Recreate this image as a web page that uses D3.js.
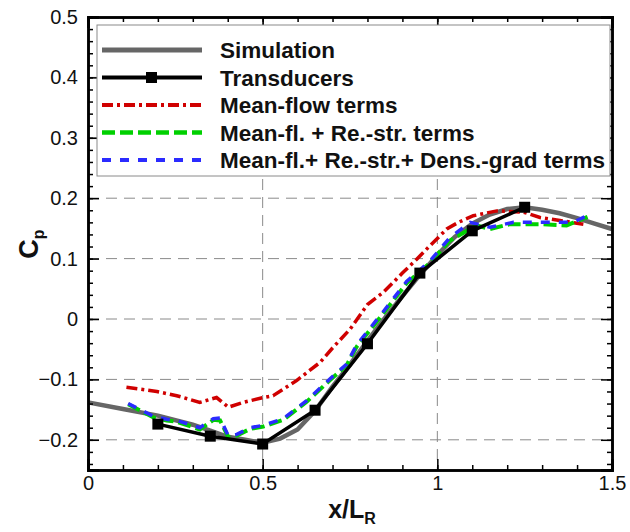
<!DOCTYPE html>
<html>
<head>
<meta charset="utf-8">
<script src="https://cdn.jsdelivr.net/npm/d3@7"></script>
<style>
  body { margin: 0; background: #fff; }
  svg { font-family: Arial, "Liberation Sans", sans-serif; }
</style>
</head>
<body>
<div id="chart"></div>
<script>
// x/L_R and Cp values
const simX = [0, 0.1, 0.2, 0.3, 0.35, 0.4, 0.45, 0.5, 0.55, 0.6, 0.65, 0.7, 0.75, 0.8, 0.85, 0.9, 0.95, 1.0, 1.05, 1.1, 1.15, 1.2, 1.25, 1.3, 1.35, 1.4, 1.45, 1.5];
const simY = [-0.138, -0.149, -0.16, -0.175, -0.185, -0.195, -0.2, -0.205, -0.198, -0.183, -0.152, -0.112, -0.075, -0.036, 0.002, 0.038, 0.073, 0.106, 0.136, 0.158, 0.173, 0.182, 0.185, 0.181, 0.175, 0.167, 0.158, 0.149];

const transX = [0.2, 0.35, 0.5, 0.65, 0.8, 0.95, 1.1, 1.25];
const transY = [-0.174, -0.194, -0.207, -0.151, -0.041, 0.076, 0.146, 0.185];

const meanX = [0.11, 0.197, 0.254, 0.32, 0.368, 0.402, 0.445, 0.502, 0.53, 0.597, 0.664, 0.7, 0.75, 0.8, 0.845, 0.9, 0.941, 0.98, 1.027, 1.06, 1.103, 1.17, 1.246, 1.294, 1.351, 1.418];
const meanY = [-0.113, -0.12, -0.127, -0.138, -0.13, -0.146, -0.138, -0.13, -0.127, -0.102, -0.072, -0.048, -0.017, 0.024, 0.044, 0.076, 0.099, 0.122, 0.149, 0.16, 0.171, 0.179, 0.177, 0.168, 0.163, 0.157];

const reX = [0.115, 0.187, 0.225, 0.254, 0.32, 0.359, 0.378, 0.402, 0.426, 0.464, 0.502, 0.559, 0.626, 0.693, 0.74, 0.769, 0.845, 0.912, 0.979, 1.036, 1.112, 1.151, 1.208, 1.294, 1.37, 1.43];
const reY = [-0.141, -0.163, -0.168, -0.17, -0.183, -0.167, -0.168, -0.196, -0.193, -0.182, -0.178, -0.167, -0.137, -0.101, -0.077, -0.046, 0.009, 0.059, 0.093, 0.13, 0.155, 0.149, 0.157, 0.157, 0.155, 0.169];

const densX = [0.115, 0.187, 0.225, 0.254, 0.32, 0.359, 0.378, 0.402, 0.426, 0.464, 0.502, 0.559, 0.626, 0.693, 0.74, 0.769, 0.845, 0.912, 0.979, 1.036, 1.094, 1.151, 1.218, 1.284, 1.351, 1.389, 1.428];
const densY = [-0.14, -0.161, -0.166, -0.168, -0.18, -0.165, -0.164, -0.194, -0.191, -0.18, -0.176, -0.165, -0.135, -0.099, -0.075, -0.043, 0.012, 0.062, 0.096, 0.135, 0.16, 0.152, 0.16, 0.16, 0.16, 0.16, 0.171];

const xTicks = [0, 0.5, 1, 1.5];
const yTicks = [-0.2, -0.1, 0, 0.1, 0.2, 0.3, 0.4, 0.5];
const legendLabels = ["Simulation", "Transducers", "Mean-flow terms", "Mean-fl. + Re.-str. terms", "Mean-fl.+ Re.-str.+ Dens.-grad terms"];

const W = 630, H = 532;
const pLeft = 88, pRight = 612, pTop = 17, pBottom = 470;

const svg = d3.select("#chart").append("svg")
  .attr("width", W).attr("height", H);

const x = d3.scaleLinear().domain([0, 1.5]).range([pLeft, pRight]);
const y = d3.scaleLinear().domain([-0.25, 0.5]).range([pBottom, pTop]);

// grid
const grid = svg.append("g").attr("stroke", "#8a8a8a").attr("stroke-width", 1).attr("stroke-dasharray", "11,7");
yTicks.filter(d => d > -0.25 && d < 0.5).forEach(d => {
  grid.append("line").attr("x1", pLeft).attr("x2", pRight).attr("y1", y(d)).attr("y2", y(d));
});
xTicks.filter(d => d > 0 && d < 1.5).forEach(d => {
  grid.append("line").attr("y1", pTop).attr("y2", pBottom).attr("x1", x(d)).attr("x2", x(d));
});

// series
const line = d3.line().x(d => x(d[0])).y(d => y(d[1]));
const series = [
  {xs: simX, ys: simY, color: "#666666", w: 4.5, dash: null},
  {xs: meanX, ys: meanY, color: "#d00000", w: 3.5, dash: "11,4,3,4"},
  {xs: reX, ys: reY, color: "#00d000", w: 4, dash: "13,5"},
  {xs: densX, ys: densY, color: "#2b2bff", w: 3.5, dash: "9,9"},
  {xs: transX, ys: transY, color: "#000000", w: 3.5, dash: null}
];
series.forEach(s => {
  svg.append("path")
    .datum(d3.zip(s.xs, s.ys))
    .attr("d", line)
    .attr("fill", "none")
    .attr("stroke", s.color)
    .attr("stroke-width", s.w)
    .attr("stroke-dasharray", s.dash);
});
svg.selectAll(".sq").data(d3.zip(transX, transY)).enter().append("rect")
  .attr("class", "sq")
  .attr("x", d => x(d[0]) - 5.5).attr("y", d => y(d[1]) - 5.5)
  .attr("width", 11).attr("height", 11).attr("fill", "#000");

// axes with inward ticks
const minorY = d3.range(-0.24, 0.5, 0.02).map(v => +v.toFixed(2));
const minorX = d3.range(0.1, 1.5, 0.1).map(v => +v.toFixed(1));

function fmt(d) { return d3.format("")(+d.toFixed(1)); }

svg.append("g").attr("transform", `translate(${pLeft},0)`)
  .call(d3.axisLeft(y).tickValues(minorY).tickSize(-5).tickFormat(""));
svg.append("g").attr("transform", `translate(${pRight},0)`)
  .call(d3.axisRight(y).tickValues(minorY).tickSize(-5).tickFormat(""));
svg.append("g").attr("transform", `translate(${pLeft},0)`)
  .attr("class", "yax")
  .call(d3.axisLeft(y).tickValues(yTicks).tickSize(-11).tickPadding(10).tickFormat(fmt));
svg.append("g").attr("transform", `translate(${pRight},0)`)
  .call(d3.axisRight(y).tickValues(yTicks).tickSize(-11).tickFormat(""));

svg.append("g").attr("transform", `translate(0,${pBottom})`)
  .call(d3.axisBottom(x).tickValues(minorX).tickSize(-5).tickFormat(""));
svg.append("g").attr("transform", `translate(0,${pTop})`)
  .call(d3.axisTop(x).tickValues(minorX).tickSize(-5).tickFormat(""));
svg.append("g").attr("transform", `translate(0,${pBottom})`)
  .attr("class", "xax")
  .call(d3.axisBottom(x).tickValues(xTicks).tickSize(-11).tickPadding(6).tickFormat(fmt));
svg.append("g").attr("transform", `translate(0,${pTop})`)
  .call(d3.axisTop(x).tickValues(xTicks).tickSize(-11).tickFormat(""));

svg.selectAll(".domain").attr("stroke", "#000").attr("stroke-width", 2.5);
svg.selectAll(".tick line").attr("stroke", "#000").attr("stroke-width", 1.5);
svg.selectAll(".yax text, .xax text").attr("font-size", 20).attr("fill", "#111")
  .attr("font-family", "Arial, 'Liberation Sans', sans-serif");

// legend
const lg = svg.append("g");
lg.append("rect").attr("x", 97).attr("y", 25).attr("width", 513).attr("height", 151)
  .attr("fill", "#fff").attr("stroke", "#8a8a8a").attr("stroke-width", 1);
const legStyles = [series[0], series[4], series[1], series[2], series[3]];
legendLabels.forEach((lab, i) => {
  const yy = 50 + i * 27.5;
  const s = legStyles[i];
  lg.append("line").attr("x1", 102).attr("x2", 202).attr("y1", yy).attr("y2", yy)
    .attr("stroke", s.color).attr("stroke-width", s.w + 0.5).attr("stroke-dasharray", s.dash);
  if (i === 1) {
    lg.append("rect").attr("x", 146).attr("y", yy - 5.5).attr("width", 11).attr("height", 11).attr("fill", "#000");
  }
  lg.append("text").attr("x", 220).attr("y", yy + 8).attr("font-size", 22.5).attr("font-weight", "bold")
    .attr("fill", "#111").text(lab);
});

// axis titles
const yt = svg.append("text").attr("transform", "translate(38,244) rotate(-90)")
  .attr("text-anchor", "middle").attr("font-size", 27).attr("font-weight", "bold").attr("fill", "#111");
yt.append("tspan").text("C");
yt.append("tspan").attr("font-size", 16).attr("dy", 6).text("p");

const xt = svg.append("text").attr("x", 352).attr("y", 518)
  .attr("text-anchor", "middle").attr("font-size", 25).attr("font-weight", "bold").attr("fill", "#111");
xt.append("tspan").text("x/L");
xt.append("tspan").attr("font-size", 16).attr("dy", 6).text("R");
</script>
</body>
</html>
